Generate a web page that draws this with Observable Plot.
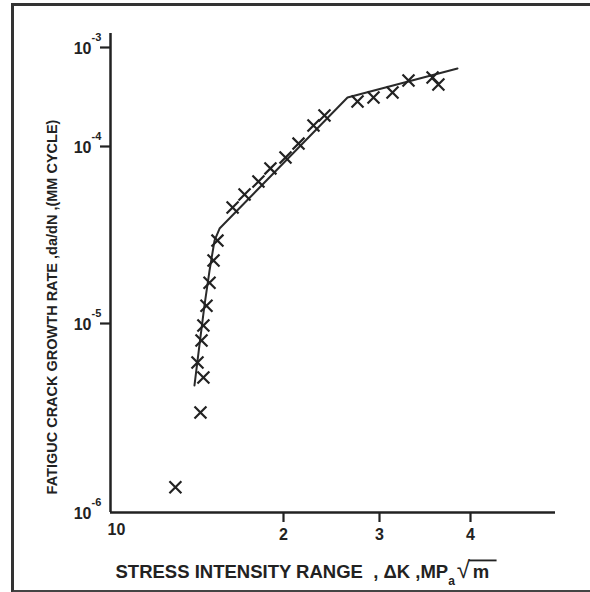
<!DOCTYPE html>
<html>
<head>
<meta charset="utf-8">
<script src="https://cdn.jsdelivr.net/npm/d3@7"></script>
<script src="https://cdn.jsdelivr.net/npm/@observablehq/plot@0.6"></script>
<style>
  html, body { margin: 0; padding: 0; background: #fff; }
  #wrap { position: relative; width: 590px; height: 592px; overflow: hidden; }
  #chart { position: absolute; left: 0; top: 0; }
  #border { position: absolute; left: 11px; top: 3px; width: 590px; height: 584px;
            border-left: 3px solid #333; border-top: 3px solid #333; border-bottom: 3px solid #444;
            pointer-events: none; }
</style>
</head>
<body>
<div id="wrap"><div id="chart"></div><div id="border"></div></div>
<script>
// Measured points: stress intensity range ΔK vs. fatigue crack growth rate da/dN
const deltaK = [1.297, 1.434, 1.451, 1.417, 1.440, 1.451, 1.469, 1.487, 1.511, 1.535,
                1.631, 1.711, 1.809, 1.898, 2.017, 2.131, 2.270, 2.378,
                2.734, 2.925, 3.126, 3.288, 3.548, 3.614];
const growthRate = [1.36e-6, 3.38e-6, 5.18e-6, 6.22e-6, 8.13e-6, 9.76e-6, 1.26e-5, 1.70e-5, 2.27e-5, 2.94e-5,
                    4.52e-5, 5.36e-5, 6.34e-5, 7.52e-5, 8.67e-5, 1.07e-4, 1.63e-4, 2.06e-4,
                    2.85e-4, 3.13e-4, 3.51e-4, 4.64e-4, 4.98e-4, 4.23e-4];
// Fitted curve
const fitK = [1.400, 1.428, 1.457, 1.487, 1.517, 1.548, 2.621, 3.839];
const fitRate = [4.70e-6, 7.66e-6, 1.26e-5, 1.99e-5, 2.94e-5, 3.44e-5, 3.13e-4, 6.14e-4];
// Axis ticks
const xTicks = [1, 2, 3, 4];
const xTickLabels = ["10", "2", "3", "4"];
const yTicks = [1e-6, 1e-5, 1e-4, 1e-3];
const yTickExps = ["-6", "-5", "-4", "-3"];
const xTitle = "STRESS INTENSITY RANGE  , \u0394K ,MPa\u221Am";
const yTitle = "FATIGUC CRACK GROWTH RATE ,da/dN ,(MM CYCLE)";

const points = deltaK.map((k, i) => ({k, r: growthRate[i]}));
const fit = fitK.map((k, i) => ({k, r: fitRate[i]}));
const font = "'Liberation Sans', Arial, sans-serif";

const plot = Plot.plot({
  width: 590,
  height: 592,
  marginLeft: 110,
  marginRight: 35,
  marginTop: 33,
  marginBottom: 80,
  style: {fontFamily: font, color: "#222", background: "transparent"},
  x: {type: "log", domain: [1, 2, 3, 4, 4.95], range: [110, 283, 379, 470, 555], axis: null},
  y: {type: "log", domain: [1e-6, 1e-5, 1e-4, 1e-3, 1.38e-3], range: [512, 323, 146, 47, 33], axis: null},
  marks: [
    // axis lines
    Plot.ruleX([1], {stroke: "#222", strokeWidth: 2.5}),
    Plot.ruleY([1e-6], {stroke: "#222", strokeWidth: 2.5}),
    // tick marks
    Plot.axisX(xTicks.slice(1), {tickSize: 10, tickFormat: () => "", label: null, stroke: "#222", strokeWidth: 2.2}),
    Plot.axisY(yTicks.slice(1), {tickSize: 10, tickFormat: () => "", label: null, stroke: "#222", strokeWidth: 2.2}),
    // x tick labels
    Plot.text(xTicks.slice(0, 1), {x: d => d, frameAnchor: "bottom", dx: 6, dy: 22,
      text: (d, i) => xTickLabels[i], fontSize: 16, fontWeight: "bold", fill: "#222"}),
    Plot.text(xTicks.slice(1), {x: d => d, frameAnchor: "bottom", dy: 27,
      text: (d, i) => xTickLabels[i + 1], fontSize: 16, fontWeight: "bold", fill: "#222"}),
    // y tick labels: "10" with superscript exponent
    Plot.text(yTicks, {y: d => d, frameAnchor: "left", dx: -19, dy: 1, textAnchor: "end",
      text: () => "10", fontSize: 16, fontWeight: "bold", fill: "#222"}),
    Plot.text(yTicks, {y: d => d, frameAnchor: "left", dx: -19, dy: -10, textAnchor: "start",
      text: (d, i) => yTickExps[i], fontSize: 11, fontWeight: "bold", fill: "#222"}),
    // fitted line
    Plot.line(fit, {x: "k", y: "r", stroke: "#2a2a2a", strokeWidth: 2}),
    // data markers
    Plot.dot(points, {x: "k", y: "r", symbol: "times", r: 5.5, stroke: "#222", strokeWidth: 2.2}),
    // titles
    Plot.text([yTitle], {frameAnchor: "left", textAnchor: "middle", rotate: -90, dx: -58, dy: 34,
      text: d => d, fontSize: 14.5, fontWeight: "bold", fill: "#222"}),
    Plot.text([xTitle], {frameAnchor: "bottom-left", textAnchor: "start", dx: 5, dy: 65,
      text: d => d, fontSize: 18.5, fontWeight: "bold", fill: "#222"})
  ]
});

document.getElementById("chart").appendChild(plot);

// Style the unit part of the x title: subscript "a" and radical overline on "m"
plot.querySelectorAll("text").forEach(t => {
  if (t.textContent === xTitle) {
    const ns = "http://www.w3.org/2000/svg";
    t.textContent = "";
    const parts = [
      ["STRESS INTENSITY RANGE  , \u0394K ,MP", {}],
      ["a", {"baseline-shift": "sub", "font-size": "12"}],
      ["\u221A", {"font-weight": "normal", "font-size": "24", "dx": "2"}],
      ["\u2009m\u2009\u2009", {"text-decoration": "overline", "dx": "-1"}]
    ];
    for (const [s, attrs] of parts) {
      const ts = document.createElementNS(ns, "tspan");
      ts.textContent = s;
      for (const k in attrs) ts.setAttribute(k, attrs[k]);
      t.appendChild(ts);
    }
  }
});
</script>
</body>
</html>
